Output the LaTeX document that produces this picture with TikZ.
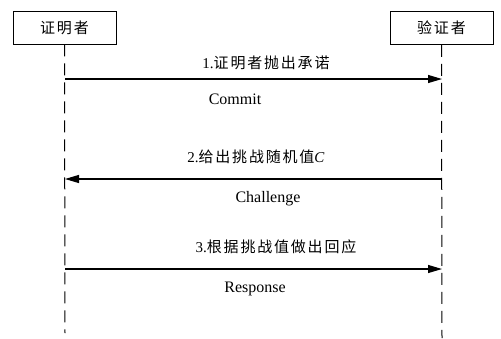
\documentclass[tikz,border=0pt]{standalone}
\usepackage{fontspec}
\setmainfont{Liberation Serif}
\newfontfamily\cjk[LetterSpace=12]{Noto Sans CJK SC}
\usetikzlibrary{arrows.meta}
\begin{document}
\begin{tikzpicture}[x=1pt,y=-1pt,
  actor/.style={draw,line width=0.8pt,minimum width=103pt,minimum height=33pt,inner sep=0pt,font=\fontsize{15}{15}\selectfont\cjk},
  life/.style={line width=1pt,dash pattern=on 12pt off 7pt},
  msg/.style={line width=1.1pt,-{Triangle[length=14pt,width=8pt]}},
  lbl/.style={inner sep=0pt,font=\fontsize{15}{15}\selectfont},
  en/.style={inner sep=0pt,font=\fontsize{16}{16}\selectfont}]
\useasboundingbox (0,0) rectangle (501,338);
\node[actor] (P) at (64.5,27.5) {证明者};
\node[actor] (V) at (441.5,28) {验证者};
\coordinate (Pend) at (65,333);
\coordinate (Vend) at (442,338);
\draw[life] (P.south) -- (Pend);
\draw[life] (V.south) -- (Vend);
\coordinate (a1) at (65,79);
\coordinate (b1) at (442,79);
\coordinate (a2) at (65,179);
\coordinate (b2) at (442,179);
\coordinate (a3) at (65,269);
\coordinate (b3) at (442,269);
\draw[msg] (a1) -- (b1);
\draw[msg] (b2) -- (a2);
\draw[msg] (a3) -- (b3);
\node[lbl] (t1) at (266,63) {1.{\cjk 证明者抛出承诺}};
\node[en] (c1) at (235,99) {Commit};
\node[lbl] (t2) at (256,157) {2.{\cjk 给出挑战随机值}\textit{C}};
\node[en] (c2) at (268,199) {Challenge};
\node[lbl] (t3) at (276,247) {3.{\cjk 根据挑战值做出回应}};
\node[en] (c3) at (255,289) {Response};
\end{tikzpicture}
\end{document}
